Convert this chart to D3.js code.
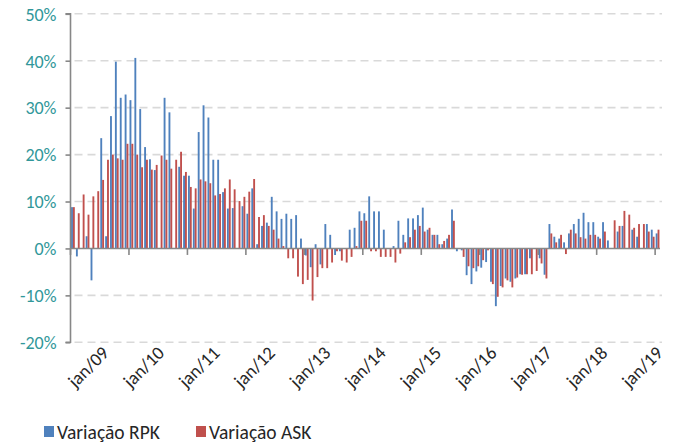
<!DOCTYPE html>
<html><head><meta charset="utf-8">
<script src="https://cdn.jsdelivr.net/npm/d3@7"></script>
<style>body{margin:0;background:#fff}</style>
</head><body>
<svg id="c" width="676" height="445"></svg>
<script>
const monthNames = ["jan","fev","mar","abr","mai","jun","jul","ago","set","out","nov","dez"];
const years = ["09","10","11","12","13","14","15","16","17","18","19"];
const tickLabels = ["jan/09","jan/10","jan/11","jan/12","jan/13","jan/14","jan/15","jan/16","jan/17","jan/18","jan/19"];
const yTicks = [-20,-10,0,10,20,30,40,50];
const seriesNames = ["Variação RPK","Variação ASK"];
const colors = ["#4F81BD","#C0504D"];

const rpk = [
8.8,-1.7,0,2.6,-6.8,0,23.5,2.6,28.2,39.8,32.1,32.8,
31.6,40.6,29.7,21.6,19.0,16.7,0,32.1,29.0,0,17.4,15.5,
15.5,8.5,24.8,30.5,27.9,18.9,18.9,12.0,8.5,8.6,0,9.0,
7.4,12.8,0.9,4.8,5.5,11.0,7.9,6.3,7.4,6.3,7.1,2.1,
-1.5,-4.0,0.9,-3.4,5.2,2.9,-1.4,-0.6,0,4.0,4.4,7.9,
7.5,11.1,7.9,7.9,4.0,0,0.5,5.9,2.9,6.4,6.4,7.1,
8.7,4.0,2.9,2.9,0.9,2.1,8.3,-0.6,-0.4,-5.7,-7.6,-4.9,
-4.1,-2.9,-7.1,-12.3,-8.0,-6.4,-7.1,-6.4,-5.5,-5.5,-2.1,0,
-2.1,-5.6,5.2,2.5,2.1,1.3,3.2,5.2,6.3,7.6,5.6,5.6,
2.5,5.6,1.7,0,3.6,4.8,0,4.0,2.5,0,5.2,4.0,
3.2
];
const ask = [
8.8,7.5,11.5,7.2,11.1,12.2,14.6,18.9,20.0,19.2,18.9,22.3,
22.3,20.0,17.3,18.9,16.8,17.8,19.8,18.9,17.0,18.9,20.6,16.3,
13.1,12.8,14.7,14.3,13.9,11.3,11.6,12.8,14.7,12.6,10.1,11.0,
12.1,14.8,6.7,7.1,4.8,4.0,2.1,0.5,-2.1,-2.1,-6.0,-7.6,
-6.7,-11.1,-6.1,-4.2,-4.2,-3.0,-0.6,-2.6,-3.0,-1.8,0.5,5.9,
5.9,-0.6,-0.6,-1.8,-1.8,-1.8,-3.0,-1.1,1.3,2.4,4.0,4.8,
3.6,4.4,2.9,0.9,1.6,2.9,5.9,0,-1.8,-3.8,-4.2,-3.8,
-2.5,-0.4,-7.6,-10.3,-8.3,-6.8,-8.3,-6.2,-5.6,-5.5,-5.5,-4.8,
-3.2,-6.4,3.2,1.3,2.9,-1.2,4.0,3.2,2.4,2.1,2.9,2.9,
2.1,3.6,0,6.0,4.8,8.0,7.2,4.4,5.2,5.2,3.6,2.5,
4.0
];

const categories = [];
years.forEach(yy => monthNames.forEach(m => { if (categories.length < rpk.length) categories.push(m + "/" + yy); }));

const L = 70.5, R = 660, T = 13.8, B = 342.3;
const FONT = "Carlito, Lato, 'Liberation Sans', sans-serif";
const svg = d3.select("#c");

const x = d3.scaleBand().domain(categories).range([L, R]).paddingInner(0).paddingOuter(0);
const xs = d3.scaleBand().domain([0, 1]).range([0, x.bandwidth()]).paddingInner(0).paddingOuter(0.3);
const y = d3.scaleLinear().domain([-20, 50]).range([B, T]);
const labelX = d3.scaleLinear().domain([0, tickLabels.length - 1]).range([110, 664]);

// gridlines
svg.append("g").selectAll("line").data(yTicks.filter(d => d !== 0)).join("line")
  .attr("x1", L + 4).attr("x2", R + 2)
  .attr("y1", d => y(d)).attr("y2", d => y(d))
  .attr("stroke", "#D9D9D9").attr("stroke-width", 1.6).attr("stroke-dasharray", "8,5");

// bars
const series = [rpk, ask];
series.forEach((vals, si) => {
  svg.append("g").attr("fill", colors[si]).selectAll("rect").data(vals).join("rect")
    .attr("x", (d, i) => x(categories[i]) + xs(si))
    .attr("width", xs.bandwidth())
    .attr("y", d => y(Math.max(0, d)))
    .attr("height", d => Math.abs(y(d) - y(0)));
});

// zero axis line
svg.append("line").attr("x1", L).attr("x2", R).attr("y1", y(0)).attr("y2", y(0))
  .attr("stroke", "#878787").attr("stroke-width", 1.6);

// category ticks (yearly)
svg.append("g").selectAll("line").data(categories.filter((c, i) => i % 12 === 0)).join("line")
  .attr("x1", d => x(d)).attr("x2", d => x(d))
  .attr("y1", y(0)).attr("y2", y(0) + 6.5)
  .attr("stroke", "#878787").attr("stroke-width", 1.6);

// y axis
const yAxis = svg.append("g").attr("transform", `translate(${L},0)`)
  .call(d3.axisLeft(y).tickValues(yTicks).tickSize(5).tickFormat(d => d + "%"));
yAxis.select(".domain").attr("stroke", "#878787").attr("stroke-width", 1.6).attr("d", `M-5,${B}H0V${T}H-5`);
yAxis.selectAll(".tick line").attr("stroke", "#878787").attr("stroke-width", 1.6);
yAxis.selectAll(".tick text").attr("fill", "#31979A").attr("font-size", 18).attr("font-family", FONT).attr("x", -14).attr("dy", "0.35em");

// x labels
svg.append("g").selectAll("text").data(tickLabels).join("text")
  .attr("transform", (d, i) => `translate(${labelX(i)},${354}) rotate(-45)`)
  .attr("text-anchor", "end").attr("font-size", 18.5).attr("font-family", FONT).attr("fill", "#262626")
  .text(d => d);

// legend
const leg = svg.append("g").attr("font-family", FONT).attr("font-size", 19.5).attr("fill", "#262626");
const legX = [44, 196];
seriesNames.forEach((n, i) => {
  leg.append("rect").attr("x", legX[i]).attr("y", 426).attr("width", 10).attr("height", 11).attr("fill", colors[i]);
  leg.append("text").attr("x", legX[i] + 13).attr("y", 439).text(n);
});
</script>
</body></html>
